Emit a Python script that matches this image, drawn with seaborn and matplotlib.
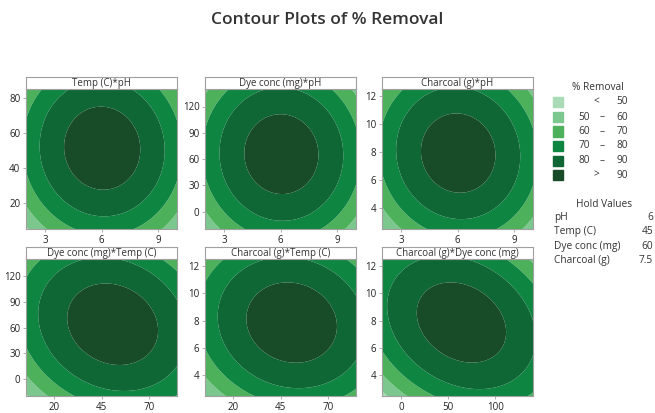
import numpy as np
import matplotlib
matplotlib.use("Agg")
import matplotlib.pyplot as plt
import seaborn as sns

# ---- data -------------------------------------------------------------
FACTORS = ["pH", "Temp (C)", "Dye conc (mg)", "Charcoal (g)"]
HOLD = [6, 45, 60, 7.5]            # hold values (centre points)
STEP = [2, 20, 40, 2.5]            # size of one coded unit
LOW = [2, 5, -20, 2.5]             # axis ranges
HIGH = [10, 85, 140, 12.5]
TICKS = [[3, 6, 9], [20, 40, 60, 80], [0, 30, 60, 90, 120], [4, 6, 8, 10, 12]]
XTICKS = [[3, 6, 9], [20, 45, 70], [0, 50, 100], [4, 6, 8, 10, 12]]

# fitted quadratic response surface (coded units)
INTERCEPT = 95.5
LINEAR = [0.3, 2.6, 1.2, 1.5]
QUADRATIC = [-5.8, -4.2, -4.3, -4.4]
PAIRS = [(0, 1), (0, 2), (0, 3), (1, 2), (1, 3), (2, 3)]
INTERACT = [-0.3, -0.2, -0.5, -1.3, -0.8, -2.1]

PANELS = [(0, 1), (0, 2), (0, 3), (1, 2), (1, 3), (2, 3)]   # (x factor, y factor)
LEVELS = [0, 50, 60, 70, 80, 90, 200]
LEVEL_LABELS = ["<", "50  –  60", "60  –  70", "70  –  80", "80  –  90", ">"]
COLORS = ["#a8dbb6", "#7cc78e", "#4db05b", "#0f8542", "#0e6735", "#184c28"]

# ---- plot -------------------------------------------------------------
sns.set_style("white")
plt.rcParams["font.family"] = ["Open Sans", "DejaVu Sans"]
W, H = 655, 413
fig = plt.figure(figsize=(W / 100, H / 100), dpi=100)

def px(l, t, w, h):
    return [l / W, 1 - (t + h) / H, w / W, h / H]

def response(coded):
    y = INTERCEPT
    for i in range(4):
        y = y + LINEAR[i] * coded[i] + QUADRATIC[i] * coded[i] ** 2
    for (i, j), c in zip(PAIRS, INTERACT):
        y = y + c * coded[i] * coded[j]
    return y

lefts = [26, 205, 382]
tops = [89, 259]
heights = [140, 137]
pw = 151
grey = "#a0a0a0"
for k, (fx, fy) in enumerate(PANELS):
    l = lefts[k % 3]
    t = tops[k // 3]
    ph = heights[k // 3]
    ax = fig.add_axes(px(l, t, pw, ph))
    xs = np.linspace(LOW[fx], HIGH[fx], 240)
    ys = np.linspace(LOW[fy], HIGH[fy], 240)
    X, Y = np.meshgrid(xs, ys)
    coded = [np.zeros_like(X) for _ in range(4)]
    coded[fx] = (X - HOLD[fx]) / STEP[fx]
    coded[fy] = (Y - HOLD[fy]) / STEP[fy]
    Z = response(coded)
    ax.contourf(X, Y, Z, levels=LEVELS, colors=COLORS, antialiased=True)
    ax.set_xlim(LOW[fx], HIGH[fx])
    ax.set_ylim(LOW[fy], HIGH[fy])
    ax.set_xticks(XTICKS[fx])
    ax.set_yticks(TICKS[fy])
    ax.tick_params(labelsize=7, length=2.5, width=0.6, color=grey, pad=1.5,
                   labelcolor="#222222", bottom=True, left=True)
    for s in ax.spines.values():
        s.set_color(grey)
        s.set_linewidth(0.8)
    hx = fig.add_axes(px(l, t - 12, pw, 12))
    hx.set_xticks([]); hx.set_yticks([])
    hx.set_facecolor("white")
    for s in hx.spines.values():
        s.set_color(grey)
        s.set_linewidth(0.8)
    hx.text(0.5, 0.45, f"{FACTORS[fy]}*{FACTORS[fx]}",
            ha="center", va="center", fontsize=7, color="#333333", transform=hx.transAxes)

fig.text(0.5, 1 - 20 / H, "Contour Plots of % Removal", ha="center", va="center",
         fontsize=12.5, color="#333333", fontweight="semibold")

# legend
fig.text(598 / W, 1 - 88 / H, "% Removal", ha="center", va="center", fontsize=7.3, color="#333333")
rows = [102, 117, 131.5, 146, 160.5, 175]
for i, (c, lab) in enumerate(zip(COLORS, LEVEL_LABELS)):
    y = rows[i]
    fig.patches.append(plt.Rectangle((552.5 / W, 1 - (y + 5) / H), 10 / W, 10 / H,
                                     transform=fig.transFigure, color=c, figure=fig))
    if lab in ("<", ">"):
        fig.text(596 / W, 1 - y / H, lab, ha="center", va="center", fontsize=7.3, color="#333333")
        fig.text(628 / W, 1 - y / H, "50" if lab == "<" else "90", ha="right", va="center",
                 fontsize=7.3, color="#333333")
    else:
        a, b = lab.split("  –  ")
        fig.text(590 / W, 1 - y / H, a, ha="right", va="center", fontsize=7.3, color="#333333")
        fig.text(602 / W, 1 - y / H, "–", ha="center", va="center", fontsize=7.3, color="#333333")
        fig.text(628 / W, 1 - y / H, b, ha="right", va="center", fontsize=7.3, color="#333333")

fig.text(604 / W, 1 - 204 / H, "Hold Values", ha="center", va="center", fontsize=7.3, color="#333333")
for i, (f, v) in enumerate(zip(FACTORS, HOLD)):
    y = 217.5 + i * 14.3
    fig.text(554 / W, 1 - y / H, f, ha="left", va="center", fontsize=7.3, color="#333333")
    fig.text(653 / W, 1 - y / H, f"{v:g}", ha="right", va="center", fontsize=7.3, color="#333333")

fig.savefig("out.png", dpi=100)
